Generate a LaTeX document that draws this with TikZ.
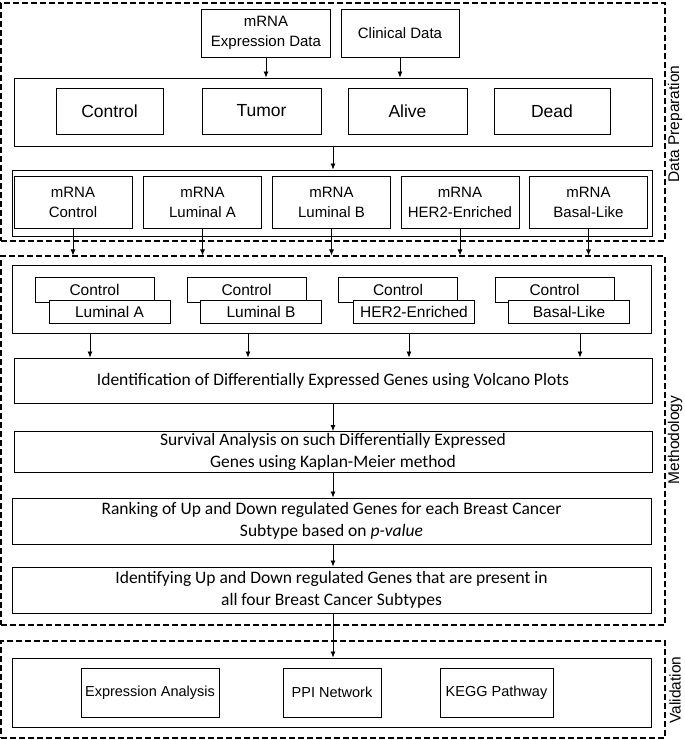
\documentclass[tikz,border=0pt]{standalone}
\usepackage{fontspec}
\setmainfont{Liberation Sans}
\newfontfamily\calib{Carlito}
\usetikzlibrary{arrows.meta,calc}
\begin{document}
\begin{tikzpicture}[x=1pt,y=-1pt,
 box/.style={draw, line width=0.9pt, fill=white, inner sep=0pt, align=center, font=\fontsize{15}{20}\selectfont},
 pbox/.style={box, font=\fontsize{15.5}{20}\selectfont},
 bigbox/.style={box, font=\fontsize{17.5}{20}\selectfont},
 dbox/.style={draw, line width=1.1pt, dash pattern=on 6pt off 3pt, inner sep=0pt},
 arr/.style={-{Latex[length=6pt,width=5pt]}, line width=0.8pt},
 side/.style={rotate=90, inner sep=0pt, font=\fontsize{15.5}{18}\selectfont},
 mbox/.style={box, font=\calib\fontsize{17.5}{22}\selectfont},
 vbox/.style={box, font=\fontsize{14.5}{18}\selectfont}
]
\useasboundingbox (0,0) rectangle (685,740);

% ---------- Data Preparation ----------
\node[dbox, minimum width=664pt, minimum height=238pt] (dp) at (333,122) {};
\node[side] (dplab) at (675,124) {Data Preparation};

\node[box, minimum width=129pt, minimum height=48pt] (mrna) at (266,33) {mRNA\\Expression Data};
\node[box, minimum width=118pt, minimum height=48pt] (clin) at (400,33) {Clinical Data};

\node[box, minimum width=638pt, minimum height=68pt] (big1) at (333,112) {};
\node[bigbox, minimum width=107pt, minimum height=46pt] (ctrl) at (109.5,111) {Control};
\node[bigbox, minimum width=119pt, minimum height=46pt] (tumor) at (261.5,111) {Tumor};
\node[bigbox, minimum width=119pt, minimum height=46pt] (alive) at (407.5,111) {Alive};
\node[bigbox, minimum width=116pt, minimum height=46pt] (dead) at (552,111) {Dead};

\draw[arr] (mrna.south) -- (mrna.south |- big1.north);
\draw[arr] (clin.south) -- (clin.south |- big1.north);

\node[box, minimum width=640pt, minimum height=66pt] (big2) at (332,203) {};
\node[box, minimum width=118pt, minimum height=52pt] (m1) at (73,202) {mRNA\\Control};
\node[box, minimum width=118pt, minimum height=52pt] (m2) at (202.5,202) {mRNA\\Luminal A};
\node[box, minimum width=118pt, minimum height=52pt] (m3) at (331.5,202) {mRNA\\Luminal B};
\node[box, minimum width=118pt, minimum height=52pt] (m4) at (460,202) {mRNA\\HER2-Enriched};
\node[box, minimum width=118pt, minimum height=52pt] (m5) at (588.5,202) {mRNA\\Basal-Like};

\draw[arr] (big1.south) -- (big1.south |- big2.north);

% ---------- Methodology ----------
\node[dbox, minimum width=664pt, minimum height=369pt] (me) at (333,440.5) {};
\node[side] (melab) at (675,440) {Methodology};

\foreach \m in {m1,m2,m3,m4,m5}
  \draw[arr] (\m.south) -- (\m.south |- me.north);

\node[box, minimum width=639pt, minimum height=68pt] (big3) at (331.5,299) {};
\node[pbox, minimum width=119pt, minimum height=25pt] (c1) at (94.5,289.5) {Control};
\node[pbox, minimum width=121pt, minimum height=23pt] (s1) at (109.5,311.5) {Luminal A};
\node[pbox, minimum width=119pt, minimum height=25pt] (c2) at (246.5,289.5) {Control};
\node[pbox, minimum width=121pt, minimum height=23pt] (s2) at (261,311.5) {Luminal B};
\node[pbox, minimum width=119pt, minimum height=25pt] (c3) at (398,289.5) {Control};
\node[pbox, minimum width=121pt, minimum height=23pt] (s3) at (414,311.5) {HER2-Enriched};
\node[pbox, minimum width=119pt, minimum height=25pt] (c4) at (554.5,289.5) {Control};
\node[pbox, minimum width=121pt, minimum height=23pt] (s4) at (569,311.5) {Basal-Like};

\node[mbox, minimum width=638pt, minimum height=45pt] (volc) at (333,380.5)
  {Identification of Differentially Expressed Genes using Volcano Plots};
\node[mbox, minimum width=638pt, minimum height=41pt] (surv) at (333,452)
  {Survival Analysis on such Differentially Expressed\\Genes using Kaplan-Meier method};
\node[mbox, minimum width=639pt, minimum height=46pt] (rank) at (331.5,521)
  {Ranking of Up and Down regulated Genes for each Breast Cancer\\Subtype based on \textit{p-value}};
\node[mbox, minimum width=639pt, minimum height=46pt] (ident) at (331.5,590)
  {Identifying Up and Down regulated Genes that are present in\\all four Breast Cancer Subtypes};

\foreach \xx/\k in {90/1,248/2,409/3,580/4} {
  \coordinate (a\k) at (\xx,0);
  \draw[arr] (a\k |- big3.south) -- (a\k |- volc.north);
}
\draw[arr] (volc.south -| 333,0) -- (surv.north -| 333,0);
\draw[arr] (surv.south -| 333,0) -- (rank.north -| 333,0);
\draw[arr] (rank.south -| 333,0) -- (ident.north -| 333,0);

% ---------- Validation ----------
\node[dbox, minimum width=664pt, minimum height=97pt] (va) at (333,689.5) {};
\node[side] (valab) at (675,690) {Validation};

\node[box, minimum width=639pt, minimum height=69pt] (big4) at (331.5,692.5) {};
\node[vbox, minimum width=138pt, minimum height=49pt] (expr) at (150,692.5) {Expression Analysis};
\node[vbox, minimum width=98pt, minimum height=49pt] (ppi) at (332,692.5) {PPI Network};
\node[vbox, minimum width=113pt, minimum height=49pt] (kegg) at (496.5,692.5) {KEGG Pathway};

\draw[arr] (ident.south -| 333,0) -- (big4.north -| 333,0);
\end{tikzpicture}
\end{document}
